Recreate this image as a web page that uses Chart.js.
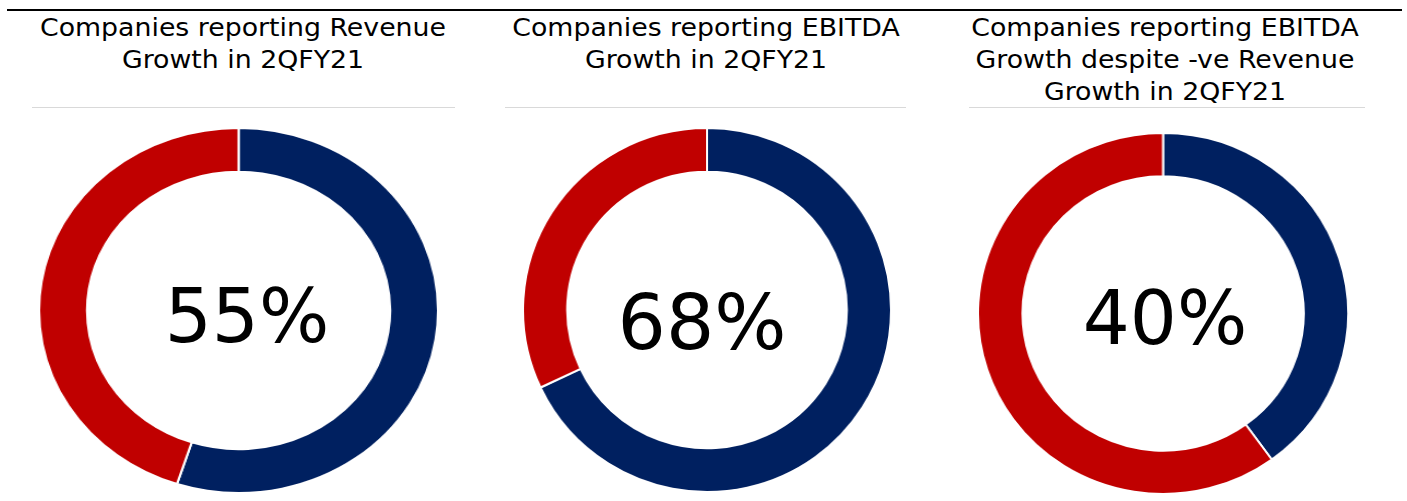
<!DOCTYPE html>
<html>
<head>
<meta charset="utf-8">
<script src="https://cdn.jsdelivr.net/npm/chart.js@4.4.0/dist/chart.umd.min.js"></script>
<style>
  body { margin: 0; width: 1407px; height: 501px; background: #fff; position: relative; overflow: hidden;
         font-family: "DejaVu Sans", Verdana, sans-serif; color: #000; }
  .topline { position: absolute; left: 7px; top: 9px; width: 1395px; height: 2px; background: #000; }
  /* titles are set a touch wider than DejaVu draws them */
  .title { position: absolute; top: 12px; width: 460px; margin-left: -230px; text-align: center;
           font-size: 24px; line-height: 32px; white-space: nowrap; transform: scaleX(1.115); }
  .rule { position: absolute; top: 107px; height: 1px; background: #d9d9d9; }
  .ring { position: absolute; transform-origin: 0 0; }
  .pct { position: absolute; font-size: 74px; line-height: 74px; transform: translate(-50%, -50%); white-space: nowrap; }

  #title0 { left: 243px; }
  #title1 { left: 706px; }
  #title2 { left: 1165px; }
  #rule0 { left: 32px; width: 423px; }
  #rule1 { left: 505px; width: 401px; }
  #rule2 { left: 969px; width: 396px; }

  /* rings are slightly wider than tall, so squeeze them sideways */
  #ring0 { left: 38px; top: 127px; width: 367px; height: 367px; transform: scaleX(1.093); }
  #ring1 { left: 522px; top: 127px; width: 366px; height: 366px; transform: scaleX(1.011); }
  #ring2 { left: 977px; top: 132px; width: 363px; height: 363px; transform: scaleX(1.025); }

  #pct0 { left: 247px; top: 316px; }
  #pct1 { left: 702px; top: 323px; font-size: 76px; }
  #pct2 { left: 1165px; top: 318px; }
</style>
</head>
<body>
<div class="topline"></div>
<div id="charts"></div>

<script>
  // titles, one entry per line
  var chartTitles = [
    ['Companies reporting Revenue', 'Growth in 2QFY21'],
    ['Companies reporting EBITDA', 'Growth in 2QFY21'],
    ['Companies reporting EBITDA', 'Growth despite -ve Revenue', 'Growth in 2QFY21']
  ]
  var sliceLabels = ['Reporting growth', 'Others']
  var growthShare = [55, 68, 40]
  var otherShare  = [45, 32, 60]
  var sliceColors = ['#002060', '#C00000']

  var AllOptions = {
    responsive : true,
    maintainAspectRatio : false,
    animation : false,
    cutout : '76%',
    layout : { padding: 0 },
    plugins : {
      legend : { display: false },
      tooltip : { enabled: false }
    }
  }

  var holder = document.getElementById('charts')

  for (var i = 0; i < growthShare.length; i++) {
    var title = document.createElement('div')
    title.className = 'title'
    title.id = 'title' + i
    title.innerHTML = chartTitles[i].join('<br>')
    holder.appendChild(title)

    var rule = document.createElement('div')
    rule.className = 'rule'
    rule.id = 'rule' + i
    holder.appendChild(rule)

    var ring = document.createElement('div')
    ring.className = 'ring'
    ring.id = 'ring' + i
    var canvas = document.createElement('canvas')
    ring.appendChild(canvas)
    holder.appendChild(ring)

    // center label reads from the same value as the blue slice
    var pct = document.createElement('div')
    pct.className = 'pct'
    pct.id = 'pct' + i
    pct.textContent = growthShare[i] + '%'
    holder.appendChild(pct)

    //Create doughnut, blue slice starts at 12 o'clock and runs clockwise
    new Chart(canvas.getContext('2d'), {
      type: 'doughnut',
      data: {
        labels: sliceLabels,
        datasets: [{
          data: [growthShare[i], otherShare[i]],
          backgroundColor: sliceColors,
          borderColor: '#ffffff',
          borderWidth: 2
        }]
      },
      options: AllOptions
    })
  }
</script>
</body>
</html>
